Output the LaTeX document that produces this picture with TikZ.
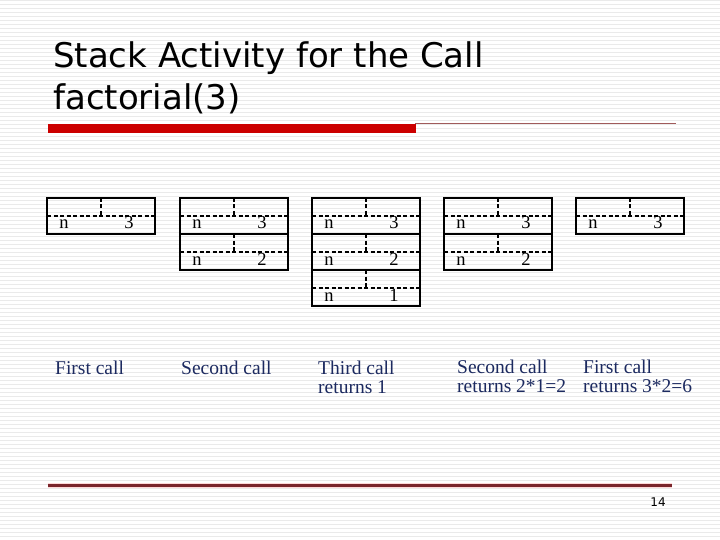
\documentclass[tikz,border=0pt]{standalone}
\usepackage{fontspec}
\setmainfont{Liberation Serif}
\newfontfamily\titlefont{DejaVu Sans}
\definecolor{navy}{RGB}{28,42,96}
\definecolor{barred}{RGB}{204,0,0}
\definecolor{thinred}{RGB}{160,90,90}
\definecolor{footred}{RGB}{122,38,44}
\definecolor{stripe}{RGB}{234,234,234}
\tikzset{
  frameline/.style={line width=2.6pt},
  dashline/.style={line width=2.3pt, dash pattern=on 4pt off 2.5pt},
  celltxt/.style={font=\fontsize{18.5}{18.5}\selectfont, inner sep=0pt, anchor=base},
  lbl/.style={font=\fontsize{19.5}{19.5}\selectfont, text=navy, inner sep=0pt, anchor=north west, align=left},
}
\newcommand{\stackframe}[4]{% left, top, value, name
  \draw[dashline] (#1,#2+18) -- (#1+108,#2+18);
  \draw[dashline] (#1+54,#2) -- (#1+54,#2+18);
  \node[celltxt] (#4n) at (#1+17,#2+31) {n};
  \node[celltxt] (#4v) at (#1+82,#2+31) {#3};
}
\begin{document}
\begin{tikzpicture}[x=1pt,y=-1pt]
\useasboundingbox (0,0) rectangle (720,540);
\fill[white] (0,0) rectangle (720,540);
\foreach \k in {0,...,134} {
  \draw[stripe, line width=1pt] (0,4*\k+0.5) -- (720,4*\k+0.5);
}
% title
\node[font=\titlefont\fontsize{34}{42}\selectfont, inner sep=0pt, anchor=base west] (t1) at (53,68) {Stack Activity for the Call};
\node[font=\titlefont\fontsize{34}{42}\selectfont, inner sep=0pt, anchor=base west] (t2) at (53,110) {factorial(3)};
\draw[thinred, line width=1pt] (415,123.5) -- (676,123.5);
\fill[barred] (48,124) rectangle (415.5,132.7);
% stack 1
\stackframe{47}{198}{3}{a1}
\draw[frameline] (47,198) rectangle (155,234);
% stack 2
\stackframe{180}{198}{3}{b1}
\stackframe{180}{234}{2}{b2}
\draw[frameline] (180,198) rectangle (288,270);
\draw[frameline] (180,234) -- (288,234);
% stack 3
\stackframe{312}{198}{3}{c1}
\stackframe{312}{234}{2}{c2}
\stackframe{312}{270}{1}{c3}
\draw[frameline] (312,198) rectangle (420,306);
\draw[frameline] (312,234) -- (420,234);
\draw[frameline] (312,270) -- (420,270);
% stack 4
\stackframe{444}{198}{3}{d1}
\stackframe{444}{234}{2}{d2}
\draw[frameline] (444,198) rectangle (552,270);
\draw[frameline] (444,234) -- (552,234);
% stack 5
\stackframe{576}{198}{3}{e1}
\draw[frameline] (576,198) rectangle (684,234);
% labels
\node[lbl] (l1) at (55,361) {First call};
\node[lbl] (l2) at (181,361) {Second call};
\node[lbl] (l3) at (318,361) {Third call\\[-0.5pt]returns 1};
\node[lbl] (l4) at (457,359.5) {Second call\\[-0.5pt]returns 2*1=2};
\node[lbl] (l5) at (583,359.5) {First call\\[-0.5pt]returns 3*2=6};
% footer
\draw[red!15, line width=5pt] (48,485.7) -- (672,485.7);
\draw[footred, line width=2.5pt] (48,485.7) -- (672,485.7);
\node[font=\titlefont\fontsize{12}{12}\selectfont, inner sep=0pt] (pg) at (658,502.5) {14};
\end{tikzpicture}
\end{document}
